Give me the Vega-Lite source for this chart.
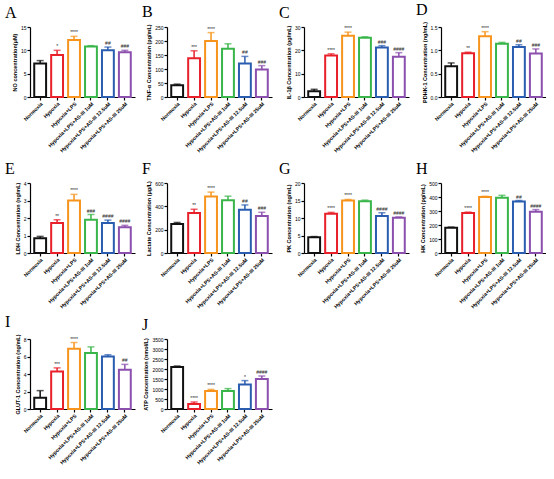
{
"$schema":"https://vega.github.io/schema/vega-lite/v6.json",
"background":"white",
"padding":{"left":5,"top":1,"right":0,"bottom":0},
"data":{"values":[
{"p":"A","g":"Normoxia","m":7.2,"hi":7.8,"s":""},
{"p":"A","g":"Hypoxia","m":9.0,"hi":10.0,"s":"*"},
{"p":"A","g":"Hypoxia+LPS","m":12.2,"hi":13.0,"s":"****"},
{"p":"A","g":"Hypoxia+LPS+AS-III 1uM","m":10.8,"hi":11.0,"s":""},
{"p":"A","g":"Hypoxia+LPS+AS-III 12.5uM","m":10.0,"hi":10.7,"s":"##"},
{"p":"A","g":"Hypoxia+LPS+AS-III 25uM","m":9.6,"hi":10.0,"s":"###"},
{"p":"B","g":"Normoxia","m":42,"hi":46,"s":""},
{"p":"B","g":"Hypoxia","m":138,"hi":165,"s":"***"},
{"p":"B","g":"Hypoxia+LPS","m":200,"hi":230,"s":"****"},
{"p":"B","g":"Hypoxia+LPS+AS-III 1uM","m":172,"hi":190,"s":""},
{"p":"B","g":"Hypoxia+LPS+AS-III 12.5uM","m":120,"hi":145,"s":"##"},
{"p":"B","g":"Hypoxia+LPS+AS-III 25uM","m":98,"hi":112,"s":"###"},
{"p":"C","g":"Normoxia","m":2.5,"hi":3.3,"s":""},
{"p":"C","g":"Hypoxia","m":17.8,"hi":18.5,"s":"****"},
{"p":"C","g":"Hypoxia+LPS","m":26.2,"hi":27.8,"s":"****"},
{"p":"C","g":"Hypoxia+LPS+AS-III 1uM","m":25.4,"hi":25.8,"s":""},
{"p":"C","g":"Hypoxia+LPS+AS-III 12.5uM","m":21.2,"hi":22.0,"s":"###"},
{"p":"C","g":"Hypoxia+LPS+AS-III 25uM","m":17.2,"hi":19.0,"s":"####"},
{"p":"D","g":"Normoxia","m":0.66,"hi":0.73,"s":""},
{"p":"D","g":"Hypoxia","m":0.94,"hi":0.96,"s":"**"},
{"p":"D","g":"Hypoxia+LPS","m":1.30,"hi":1.40,"s":"****"},
{"p":"D","g":"Hypoxia+LPS+AS-III 1uM","m":1.14,"hi":1.17,"s":""},
{"p":"D","g":"Hypoxia+LPS+AS-III 12.5uM","m":1.07,"hi":1.12,"s":"##"},
{"p":"D","g":"Hypoxia+LPS+AS-III 25uM","m":0.93,"hi":1.03,"s":"###"},
{"p":"E","g":"Normoxia","m":0.85,"hi":0.95,"s":""},
{"p":"E","g":"Hypoxia","m":1.72,"hi":1.9,"s":"**"},
{"p":"E","g":"Hypoxia+LPS","m":3.0,"hi":3.35,"s":"****"},
{"p":"E","g":"Hypoxia+LPS+AS-III 1uM","m":1.9,"hi":2.2,"s":"###"},
{"p":"E","g":"Hypoxia+LPS+AS-III 12.5uM","m":1.72,"hi":1.88,"s":"####"},
{"p":"E","g":"Hypoxia+LPS+AS-III 25uM","m":1.47,"hi":1.58,"s":"####"},
{"p":"F","g":"Normoxia","m":248,"hi":262,"s":""},
{"p":"F","g":"Hypoxia","m":342,"hi":375,"s":"**"},
{"p":"F","g":"Hypoxia+LPS","m":485,"hi":522,"s":"****"},
{"p":"F","g":"Hypoxia+LPS+AS-III 1uM","m":452,"hi":487,"s":""},
{"p":"F","g":"Hypoxia+LPS+AS-III 12.5uM","m":370,"hi":412,"s":"##"},
{"p":"F","g":"Hypoxia+LPS+AS-III 25uM","m":317,"hi":349,"s":"###"},
{"p":"G","g":"Normoxia","m":4.5,"hi":4.7,"s":""},
{"p":"G","g":"Hypoxia","m":11.2,"hi":11.6,"s":"****"},
{"p":"G","g":"Hypoxia+LPS","m":15.0,"hi":15.3,"s":"****"},
{"p":"G","g":"Hypoxia+LPS+AS-III 1uM","m":14.8,"hi":15.1,"s":""},
{"p":"G","g":"Hypoxia+LPS+AS-III 12.5uM","m":10.6,"hi":11.5,"s":"####"},
{"p":"G","g":"Hypoxia+LPS+AS-III 25uM","m":10.1,"hi":10.3,"s":"####"},
{"p":"H","g":"Normoxia","m":180,"hi":185,"s":""},
{"p":"H","g":"Hypoxia","m":285,"hi":292,"s":"****"},
{"p":"H","g":"Hypoxia+LPS","m":400,"hi":405,"s":"****"},
{"p":"H","g":"Hypoxia+LPS+AS-III 1uM","m":395,"hi":412,"s":""},
{"p":"H","g":"Hypoxia+LPS+AS-III 12.5uM","m":368,"hi":375,"s":"##"},
{"p":"H","g":"Hypoxia+LPS+AS-III 25uM","m":295,"hi":310,"s":"####"},
{"p":"I","g":"Normoxia","m":1.3,"hi":2.1,"s":""},
{"p":"I","g":"Hypoxia","m":4.3,"hi":4.7,"s":"***"},
{"p":"I","g":"Hypoxia+LPS","m":6.9,"hi":7.6,"s":"****"},
{"p":"I","g":"Hypoxia+LPS+AS-III 1uM","m":6.4,"hi":7.1,"s":""},
{"p":"I","g":"Hypoxia+LPS+AS-III 12.5uM","m":6.0,"hi":6.2,"s":""},
{"p":"I","g":"Hypoxia+LPS+AS-III 25uM","m":4.5,"hi":5.1,"s":"##"},
{"p":"J","g":"Normoxia","m":2100,"hi":2150,"s":""},
{"p":"J","g":"Hypoxia","m":250,"hi":350,"s":"****"},
{"p":"J","g":"Hypoxia+LPS","m":900,"hi":980,"s":"****"},
{"p":"J","g":"Hypoxia+LPS+AS-III 1uM","m":900,"hi":1020,"s":""},
{"p":"J","g":"Hypoxia+LPS+AS-III 12.5uM","m":1220,"hi":1420,"s":"*"},
{"p":"J","g":"Hypoxia+LPS+AS-III 25uM","m":1500,"hi":1650,"s":"####"}
]},
"columns":4,
"bounds":"flush",
"spacing":{"row":86,"column":32},
"concat":[
{"width":105,"height":70,"title":{"text":"A"},"transform":[{"filter":"datum.p=='A'"}],
 "encoding":{"x":{"field":"g","type":"nominal","sort":null,"scale":{"domain":["Normoxia","Hypoxia","Hypoxia+LPS","Hypoxia+LPS+AS-III 1uM","Hypoxia+LPS+AS-III 12.5uM","Hypoxia+LPS+AS-III 25uM"],"paddingInner":0.3,"paddingOuter":0.25}},
  "y":{"field":"m","type":"quantitative","scale":{"domain":[0,15]},"axis":{"values":[0,5,10,15],"title":"NO concentration(μM)"}},
  "color":{"field":"g","type":"nominal","scale":{"domain":["Normoxia","Hypoxia","Hypoxia+LPS","Hypoxia+LPS+AS-III 1uM","Hypoxia+LPS+AS-III 12.5uM","Hypoxia+LPS+AS-III 25uM"],"range":["#111111","#e8202a","#f7941d","#39b54a","#2a5db0","#8b4fae"]},"legend":null}},
 "layer":[
  {"mark":{"type":"bar","fill":"white","strokeWidth":2},"encoding":{"stroke":{"field":"g","type":"nominal","scale":{"domain":["Normoxia","Hypoxia","Hypoxia+LPS","Hypoxia+LPS+AS-III 1uM","Hypoxia+LPS+AS-III 12.5uM","Hypoxia+LPS+AS-III 25uM"],"range":["#111111","#e8202a","#f7941d","#39b54a","#2a5db0","#8b4fae"]},"legend":null},"color":{"value":"white"}}},
  {"mark":{"type":"rule","strokeWidth":1.5},"encoding":{"y2":{"field":"hi"}}},
  {"mark":{"type":"tick","thickness":1.5,"size":7},"encoding":{"y":{"field":"hi","type":"quantitative"}}},
  {"mark":{"type":"text","dy":-4,"fontSize":5},"encoding":{"y":{"field":"hi","type":"quantitative"},"text":{"field":"s"},"color":{"value":"#222"}}}
 ]},
{"width":105,"height":70,"title":{"text":"B"},"transform":[{"filter":"datum.p=='B'"}],
 "encoding":{"x":{"field":"g","type":"nominal","sort":null,"scale":{"domain":["Normoxia","Hypoxia","Hypoxia+LPS","Hypoxia+LPS+AS-III 1uM","Hypoxia+LPS+AS-III 12.5uM","Hypoxia+LPS+AS-III 25uM"],"paddingInner":0.3,"paddingOuter":0.25}},
  "y":{"field":"m","type":"quantitative","scale":{"domain":[0,250]},"axis":{"values":[0,50,100,150,200,250],"title":"TNF-α Concentration (pg/mL)"}},
  "color":{"field":"g","type":"nominal","scale":{"domain":["Normoxia","Hypoxia","Hypoxia+LPS","Hypoxia+LPS+AS-III 1uM","Hypoxia+LPS+AS-III 12.5uM","Hypoxia+LPS+AS-III 25uM"],"range":["#111111","#e8202a","#f7941d","#39b54a","#2a5db0","#8b4fae"]},"legend":null}},
 "layer":[
  {"mark":{"type":"bar","fill":"white","strokeWidth":2},"encoding":{"stroke":{"field":"g","type":"nominal","scale":{"domain":["Normoxia","Hypoxia","Hypoxia+LPS","Hypoxia+LPS+AS-III 1uM","Hypoxia+LPS+AS-III 12.5uM","Hypoxia+LPS+AS-III 25uM"],"range":["#111111","#e8202a","#f7941d","#39b54a","#2a5db0","#8b4fae"]},"legend":null},"color":{"value":"white"}}},
  {"mark":{"type":"rule","strokeWidth":1.5},"encoding":{"y2":{"field":"hi"}}},
  {"mark":{"type":"tick","thickness":1.5,"size":7},"encoding":{"y":{"field":"hi","type":"quantitative"}}},
  {"mark":{"type":"text","dy":-4,"fontSize":5},"encoding":{"y":{"field":"hi","type":"quantitative"},"text":{"field":"s"},"color":{"value":"#222"}}}
 ]},
{"width":105,"height":70,"title":{"text":"C"},"transform":[{"filter":"datum.p=='C'"}],
 "encoding":{"x":{"field":"g","type":"nominal","sort":null,"scale":{"domain":["Normoxia","Hypoxia","Hypoxia+LPS","Hypoxia+LPS+AS-III 1uM","Hypoxia+LPS+AS-III 12.5uM","Hypoxia+LPS+AS-III 25uM"],"paddingInner":0.3,"paddingOuter":0.25}},
  "y":{"field":"m","type":"quantitative","scale":{"domain":[0,30]},"axis":{"values":[0,10,20,30],"title":"IL-1β Concentration (pg/mL)"}},
  "color":{"field":"g","type":"nominal","scale":{"domain":["Normoxia","Hypoxia","Hypoxia+LPS","Hypoxia+LPS+AS-III 1uM","Hypoxia+LPS+AS-III 12.5uM","Hypoxia+LPS+AS-III 25uM"],"range":["#111111","#e8202a","#f7941d","#39b54a","#2a5db0","#8b4fae"]},"legend":null}},
 "layer":[
  {"mark":{"type":"bar","fill":"white","strokeWidth":2},"encoding":{"stroke":{"field":"g","type":"nominal","scale":{"domain":["Normoxia","Hypoxia","Hypoxia+LPS","Hypoxia+LPS+AS-III 1uM","Hypoxia+LPS+AS-III 12.5uM","Hypoxia+LPS+AS-III 25uM"],"range":["#111111","#e8202a","#f7941d","#39b54a","#2a5db0","#8b4fae"]},"legend":null},"color":{"value":"white"}}},
  {"mark":{"type":"rule","strokeWidth":1.5},"encoding":{"y2":{"field":"hi"}}},
  {"mark":{"type":"tick","thickness":1.5,"size":7},"encoding":{"y":{"field":"hi","type":"quantitative"}}},
  {"mark":{"type":"text","dy":-4,"fontSize":5},"encoding":{"y":{"field":"hi","type":"quantitative"},"text":{"field":"s"},"color":{"value":"#222"}}}
 ]},
{"width":105,"height":70,"title":{"text":"D"},"transform":[{"filter":"datum.p=='D'"}],
 "encoding":{"x":{"field":"g","type":"nominal","sort":null,"scale":{"domain":["Normoxia","Hypoxia","Hypoxia+LPS","Hypoxia+LPS+AS-III 1uM","Hypoxia+LPS+AS-III 12.5uM","Hypoxia+LPS+AS-III 25uM"],"paddingInner":0.3,"paddingOuter":0.25}},
  "y":{"field":"m","type":"quantitative","scale":{"domain":[0,1.5]},"axis":{"values":[0,0.5,1,1.5],"format":".1f","title":"PDHK-1 Concentration (ng/mL)"}},
  "color":{"field":"g","type":"nominal","scale":{"domain":["Normoxia","Hypoxia","Hypoxia+LPS","Hypoxia+LPS+AS-III 1uM","Hypoxia+LPS+AS-III 12.5uM","Hypoxia+LPS+AS-III 25uM"],"range":["#111111","#e8202a","#f7941d","#39b54a","#2a5db0","#8b4fae"]},"legend":null}},
 "layer":[
  {"mark":{"type":"bar","fill":"white","strokeWidth":2},"encoding":{"stroke":{"field":"g","type":"nominal","scale":{"domain":["Normoxia","Hypoxia","Hypoxia+LPS","Hypoxia+LPS+AS-III 1uM","Hypoxia+LPS+AS-III 12.5uM","Hypoxia+LPS+AS-III 25uM"],"range":["#111111","#e8202a","#f7941d","#39b54a","#2a5db0","#8b4fae"]},"legend":null},"color":{"value":"white"}}},
  {"mark":{"type":"rule","strokeWidth":1.5},"encoding":{"y2":{"field":"hi"}}},
  {"mark":{"type":"tick","thickness":1.5,"size":7},"encoding":{"y":{"field":"hi","type":"quantitative"}}},
  {"mark":{"type":"text","dy":-4,"fontSize":5},"encoding":{"y":{"field":"hi","type":"quantitative"},"text":{"field":"s"},"color":{"value":"#222"}}}
 ]},
{"width":105,"height":70,"title":{"text":"E"},"transform":[{"filter":"datum.p=='E'"}],
 "encoding":{"x":{"field":"g","type":"nominal","sort":null,"scale":{"domain":["Normoxia","Hypoxia","Hypoxia+LPS","Hypoxia+LPS+AS-III 1uM","Hypoxia+LPS+AS-III 12.5uM","Hypoxia+LPS+AS-III 25uM"],"paddingInner":0.3,"paddingOuter":0.25}},
  "y":{"field":"m","type":"quantitative","scale":{"domain":[0,4]},"axis":{"values":[0,1,2,3,4],"title":"LDH Concentration (ng/mL)"}},
  "color":{"field":"g","type":"nominal","scale":{"domain":["Normoxia","Hypoxia","Hypoxia+LPS","Hypoxia+LPS+AS-III 1uM","Hypoxia+LPS+AS-III 12.5uM","Hypoxia+LPS+AS-III 25uM"],"range":["#111111","#e8202a","#f7941d","#39b54a","#2a5db0","#8b4fae"]},"legend":null}},
 "layer":[
  {"mark":{"type":"bar","fill":"white","strokeWidth":2},"encoding":{"stroke":{"field":"g","type":"nominal","scale":{"domain":["Normoxia","Hypoxia","Hypoxia+LPS","Hypoxia+LPS+AS-III 1uM","Hypoxia+LPS+AS-III 12.5uM","Hypoxia+LPS+AS-III 25uM"],"range":["#111111","#e8202a","#f7941d","#39b54a","#2a5db0","#8b4fae"]},"legend":null},"color":{"value":"white"}}},
  {"mark":{"type":"rule","strokeWidth":1.5},"encoding":{"y2":{"field":"hi"}}},
  {"mark":{"type":"tick","thickness":1.5,"size":7},"encoding":{"y":{"field":"hi","type":"quantitative"}}},
  {"mark":{"type":"text","dy":-4,"fontSize":5},"encoding":{"y":{"field":"hi","type":"quantitative"},"text":{"field":"s"},"color":{"value":"#222"}}}
 ]},
{"width":105,"height":70,"title":{"text":"F"},"transform":[{"filter":"datum.p=='F'"}],
 "encoding":{"x":{"field":"g","type":"nominal","sort":null,"scale":{"domain":["Normoxia","Hypoxia","Hypoxia+LPS","Hypoxia+LPS+AS-III 1uM","Hypoxia+LPS+AS-III 12.5uM","Hypoxia+LPS+AS-III 25uM"],"paddingInner":0.3,"paddingOuter":0.25}},
  "y":{"field":"m","type":"quantitative","scale":{"domain":[0,600]},"axis":{"values":[0,200,400,600],"title":"Lactate Concentration (μg/L)"}},
  "color":{"field":"g","type":"nominal","scale":{"domain":["Normoxia","Hypoxia","Hypoxia+LPS","Hypoxia+LPS+AS-III 1uM","Hypoxia+LPS+AS-III 12.5uM","Hypoxia+LPS+AS-III 25uM"],"range":["#111111","#e8202a","#f7941d","#39b54a","#2a5db0","#8b4fae"]},"legend":null}},
 "layer":[
  {"mark":{"type":"bar","fill":"white","strokeWidth":2},"encoding":{"stroke":{"field":"g","type":"nominal","scale":{"domain":["Normoxia","Hypoxia","Hypoxia+LPS","Hypoxia+LPS+AS-III 1uM","Hypoxia+LPS+AS-III 12.5uM","Hypoxia+LPS+AS-III 25uM"],"range":["#111111","#e8202a","#f7941d","#39b54a","#2a5db0","#8b4fae"]},"legend":null},"color":{"value":"white"}}},
  {"mark":{"type":"rule","strokeWidth":1.5},"encoding":{"y2":{"field":"hi"}}},
  {"mark":{"type":"tick","thickness":1.5,"size":7},"encoding":{"y":{"field":"hi","type":"quantitative"}}},
  {"mark":{"type":"text","dy":-4,"fontSize":5},"encoding":{"y":{"field":"hi","type":"quantitative"},"text":{"field":"s"},"color":{"value":"#222"}}}
 ]},
{"width":105,"height":70,"title":{"text":"G"},"transform":[{"filter":"datum.p=='G'"}],
 "encoding":{"x":{"field":"g","type":"nominal","sort":null,"scale":{"domain":["Normoxia","Hypoxia","Hypoxia+LPS","Hypoxia+LPS+AS-III 1uM","Hypoxia+LPS+AS-III 12.5uM","Hypoxia+LPS+AS-III 25uM"],"paddingInner":0.3,"paddingOuter":0.25}},
  "y":{"field":"m","type":"quantitative","scale":{"domain":[0,20]},"axis":{"values":[0,5,10,15,20],"title":"PK Concentration (ng/mL)"}},
  "color":{"field":"g","type":"nominal","scale":{"domain":["Normoxia","Hypoxia","Hypoxia+LPS","Hypoxia+LPS+AS-III 1uM","Hypoxia+LPS+AS-III 12.5uM","Hypoxia+LPS+AS-III 25uM"],"range":["#111111","#e8202a","#f7941d","#39b54a","#2a5db0","#8b4fae"]},"legend":null}},
 "layer":[
  {"mark":{"type":"bar","fill":"white","strokeWidth":2},"encoding":{"stroke":{"field":"g","type":"nominal","scale":{"domain":["Normoxia","Hypoxia","Hypoxia+LPS","Hypoxia+LPS+AS-III 1uM","Hypoxia+LPS+AS-III 12.5uM","Hypoxia+LPS+AS-III 25uM"],"range":["#111111","#e8202a","#f7941d","#39b54a","#2a5db0","#8b4fae"]},"legend":null},"color":{"value":"white"}}},
  {"mark":{"type":"rule","strokeWidth":1.5},"encoding":{"y2":{"field":"hi"}}},
  {"mark":{"type":"tick","thickness":1.5,"size":7},"encoding":{"y":{"field":"hi","type":"quantitative"}}},
  {"mark":{"type":"text","dy":-4,"fontSize":5},"encoding":{"y":{"field":"hi","type":"quantitative"},"text":{"field":"s"},"color":{"value":"#222"}}}
 ]},
{"width":105,"height":70,"title":{"text":"H"},"transform":[{"filter":"datum.p=='H'"}],
 "encoding":{"x":{"field":"g","type":"nominal","sort":null,"scale":{"domain":["Normoxia","Hypoxia","Hypoxia+LPS","Hypoxia+LPS+AS-III 1uM","Hypoxia+LPS+AS-III 12.5uM","Hypoxia+LPS+AS-III 25uM"],"paddingInner":0.3,"paddingOuter":0.25}},
  "y":{"field":"m","type":"quantitative","scale":{"domain":[0,500]},"axis":{"values":[0,100,200,300,400,500],"title":"HK Concentration (pg/mL)"}},
  "color":{"field":"g","type":"nominal","scale":{"domain":["Normoxia","Hypoxia","Hypoxia+LPS","Hypoxia+LPS+AS-III 1uM","Hypoxia+LPS+AS-III 12.5uM","Hypoxia+LPS+AS-III 25uM"],"range":["#111111","#e8202a","#f7941d","#39b54a","#2a5db0","#8b4fae"]},"legend":null}},
 "layer":[
  {"mark":{"type":"bar","fill":"white","strokeWidth":2},"encoding":{"stroke":{"field":"g","type":"nominal","scale":{"domain":["Normoxia","Hypoxia","Hypoxia+LPS","Hypoxia+LPS+AS-III 1uM","Hypoxia+LPS+AS-III 12.5uM","Hypoxia+LPS+AS-III 25uM"],"range":["#111111","#e8202a","#f7941d","#39b54a","#2a5db0","#8b4fae"]},"legend":null},"color":{"value":"white"}}},
  {"mark":{"type":"rule","strokeWidth":1.5},"encoding":{"y2":{"field":"hi"}}},
  {"mark":{"type":"tick","thickness":1.5,"size":7},"encoding":{"y":{"field":"hi","type":"quantitative"}}},
  {"mark":{"type":"text","dy":-4,"fontSize":5},"encoding":{"y":{"field":"hi","type":"quantitative"},"text":{"field":"s"},"color":{"value":"#222"}}}
 ]},
{"width":105,"height":70,"title":{"text":"I"},"transform":[{"filter":"datum.p=='I'"}],
 "encoding":{"x":{"field":"g","type":"nominal","sort":null,"scale":{"domain":["Normoxia","Hypoxia","Hypoxia+LPS","Hypoxia+LPS+AS-III 1uM","Hypoxia+LPS+AS-III 12.5uM","Hypoxia+LPS+AS-III 25uM"],"paddingInner":0.3,"paddingOuter":0.25}},
  "y":{"field":"m","type":"quantitative","scale":{"domain":[0,8]},"axis":{"values":[0,2,4,6,8],"title":"GLUT-1 Concentration (ng/mL)"}},
  "color":{"field":"g","type":"nominal","scale":{"domain":["Normoxia","Hypoxia","Hypoxia+LPS","Hypoxia+LPS+AS-III 1uM","Hypoxia+LPS+AS-III 12.5uM","Hypoxia+LPS+AS-III 25uM"],"range":["#111111","#e8202a","#f7941d","#39b54a","#2a5db0","#8b4fae"]},"legend":null}},
 "layer":[
  {"mark":{"type":"bar","fill":"white","strokeWidth":2},"encoding":{"stroke":{"field":"g","type":"nominal","scale":{"domain":["Normoxia","Hypoxia","Hypoxia+LPS","Hypoxia+LPS+AS-III 1uM","Hypoxia+LPS+AS-III 12.5uM","Hypoxia+LPS+AS-III 25uM"],"range":["#111111","#e8202a","#f7941d","#39b54a","#2a5db0","#8b4fae"]},"legend":null},"color":{"value":"white"}}},
  {"mark":{"type":"rule","strokeWidth":1.5},"encoding":{"y2":{"field":"hi"}}},
  {"mark":{"type":"tick","thickness":1.5,"size":7},"encoding":{"y":{"field":"hi","type":"quantitative"}}},
  {"mark":{"type":"text","dy":-4,"fontSize":5},"encoding":{"y":{"field":"hi","type":"quantitative"},"text":{"field":"s"},"color":{"value":"#222"}}}
 ]},
{"width":105,"height":70,"title":{"text":"J"},"transform":[{"filter":"datum.p=='J'"}],
 "encoding":{"x":{"field":"g","type":"nominal","sort":null,"scale":{"domain":["Normoxia","Hypoxia","Hypoxia+LPS","Hypoxia+LPS+AS-III 1uM","Hypoxia+LPS+AS-III 12.5uM","Hypoxia+LPS+AS-III 25uM"],"paddingInner":0.3,"paddingOuter":0.25}},
  "y":{"field":"m","type":"quantitative","scale":{"domain":[0,3500]},"axis":{"values":[0,500,1000,1500,2000,2500,3000,3500],"format":"d","title":"ATP Concentration (nmol/L)"}},
  "color":{"field":"g","type":"nominal","scale":{"domain":["Normoxia","Hypoxia","Hypoxia+LPS","Hypoxia+LPS+AS-III 1uM","Hypoxia+LPS+AS-III 12.5uM","Hypoxia+LPS+AS-III 25uM"],"range":["#111111","#e8202a","#f7941d","#39b54a","#2a5db0","#8b4fae"]},"legend":null}},
 "layer":[
  {"mark":{"type":"bar","fill":"white","strokeWidth":2},"encoding":{"stroke":{"field":"g","type":"nominal","scale":{"domain":["Normoxia","Hypoxia","Hypoxia+LPS","Hypoxia+LPS+AS-III 1uM","Hypoxia+LPS+AS-III 12.5uM","Hypoxia+LPS+AS-III 25uM"],"range":["#111111","#e8202a","#f7941d","#39b54a","#2a5db0","#8b4fae"]},"legend":null},"color":{"value":"white"}}},
  {"mark":{"type":"rule","strokeWidth":1.5},"encoding":{"y2":{"field":"hi"}}},
  {"mark":{"type":"tick","thickness":1.5,"size":7},"encoding":{"y":{"field":"hi","type":"quantitative"}}},
  {"mark":{"type":"text","dy":-4,"fontSize":5},"encoding":{"y":{"field":"hi","type":"quantitative"},"text":{"field":"s"},"color":{"value":"#222"}}}
 ]}
],
"config":{
 "view":{"stroke":null},
 "axis":{"grid":false,"domainColor":"black","domainWidth":1.2,"tickColor":"black","tickWidth":1.2,"tickSize":3,"labelFont":"Liberation Sans","labelFontSize":5,"labelColor":"black","labelPadding":1,"titleFont":"Liberation Sans","titleFontSize":5.5,"titleFontWeight":"bold","titleColor":"black"},
 "axisX":{"labelAngle":-45,"title":null,"labelFontSize":5.2,"labelFontWeight":"bold"},
 "axisY":{"titlePadding":3},
 "title":{"font":"Liberation Serif","fontSize":16,"fontWeight":"normal","anchor":"start","frame":"group","dx":-25,"offset":4,"color":"black"}
}
}
